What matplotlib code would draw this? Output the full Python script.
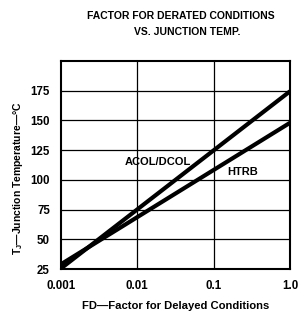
import matplotlib
matplotlib.use("Agg")
import matplotlib.pyplot as plt

plt.rcParams['font.family'] = ['Liberation Sans', 'DejaVu Sans']
plt.rcParams['font.weight'] = 'bold'
plt.rcParams['mathtext.fontset'] = 'custom'
plt.rcParams['mathtext.rm'] = 'Liberation Sans:bold'
plt.rcParams['mathtext.it'] = 'Liberation Sans:bold'
plt.rcParams['mathtext.bf'] = 'Liberation Sans:bold'

# Data
fd = [0.001, 1.0]
acol_dcol = [25.5, 174.5]
htrb = [29.0, 148.0]
x_ticks = [0.001, 0.01, 0.1, 1.0]
x_tick_labels = ["0.001", "0.01", "0.1", "1.0"]
y_ticks = [25, 50, 75, 100, 125, 150, 175]
y_tick_labels = ["25", "50", "75", "100", "125", "150", "175"]

fig = plt.figure(figsize=(2.98, 3.12), dpi=100)
ax = fig.add_axes([61/298, 1-269/312, (290-61)/298, (269-61)/312])

ax.set_xscale('log')
ax.set_xlim(0.001, 1.0)
ax.set_ylim(25, 200)

for v in [50, 75, 100, 125, 150, 175]:
    ax.axhline(v, color='black', lw=0.9, zorder=1)
for v in [0.01, 0.1]:
    ax.axvline(v, color='black', lw=0.9, zorder=1)

ax.plot(fd, acol_dcol, color='black', lw=3.0, solid_capstyle='butt', zorder=3)
ax.plot(fd, htrb, color='black', lw=3.0, solid_capstyle='butt', zorder=3)

ax.set_xticks(x_ticks)
ax.set_xticklabels(x_tick_labels, fontsize=8.3, fontweight='bold')
ax.minorticks_off()
ax.set_yticks(y_ticks)
ax.set_yticklabels(y_tick_labels, fontsize=8.3, fontweight='bold')
ax.tick_params(axis='both', length=0)
ax.tick_params(axis='x', pad=8)
ax.tick_params(axis='y', pad=8)

for s in ax.spines.values():
    s.set_linewidth(1.5)

ax.text(0.0184, 115, "ACOL/DCOL", fontsize=8, fontweight='bold',
        ha='center', va='center', zorder=4)
ax.text(0.239, 106.6, "HTRB", fontsize=8, fontweight='bold',
        ha='center', va='center', zorder=4)

fig.text(181/298, 1-16/312, "FACTOR FOR DERATED CONDITIONS", fontsize=7.5,
         fontweight='bold', ha='center', va='center')
fig.text(187/298, 1-32/312, "VS. JUNCTION TEMP.", fontsize=7.5,
         fontweight='bold', ha='center', va='center')

fig.text(176/298, 1-306/312, "FD\u2014Factor for Delayed Conditions", fontsize=8.1,
         fontweight='bold', ha='center', va='center')
fig.text(18/298, 1-178/312, "T$_{\\mathrm{J}}$\u2014Junction Temperature\u2014\u00b0C",
         fontsize=7.5, fontweight='bold', ha='center', va='center', rotation=90)

fig.savefig("out.png", dpi=100)
